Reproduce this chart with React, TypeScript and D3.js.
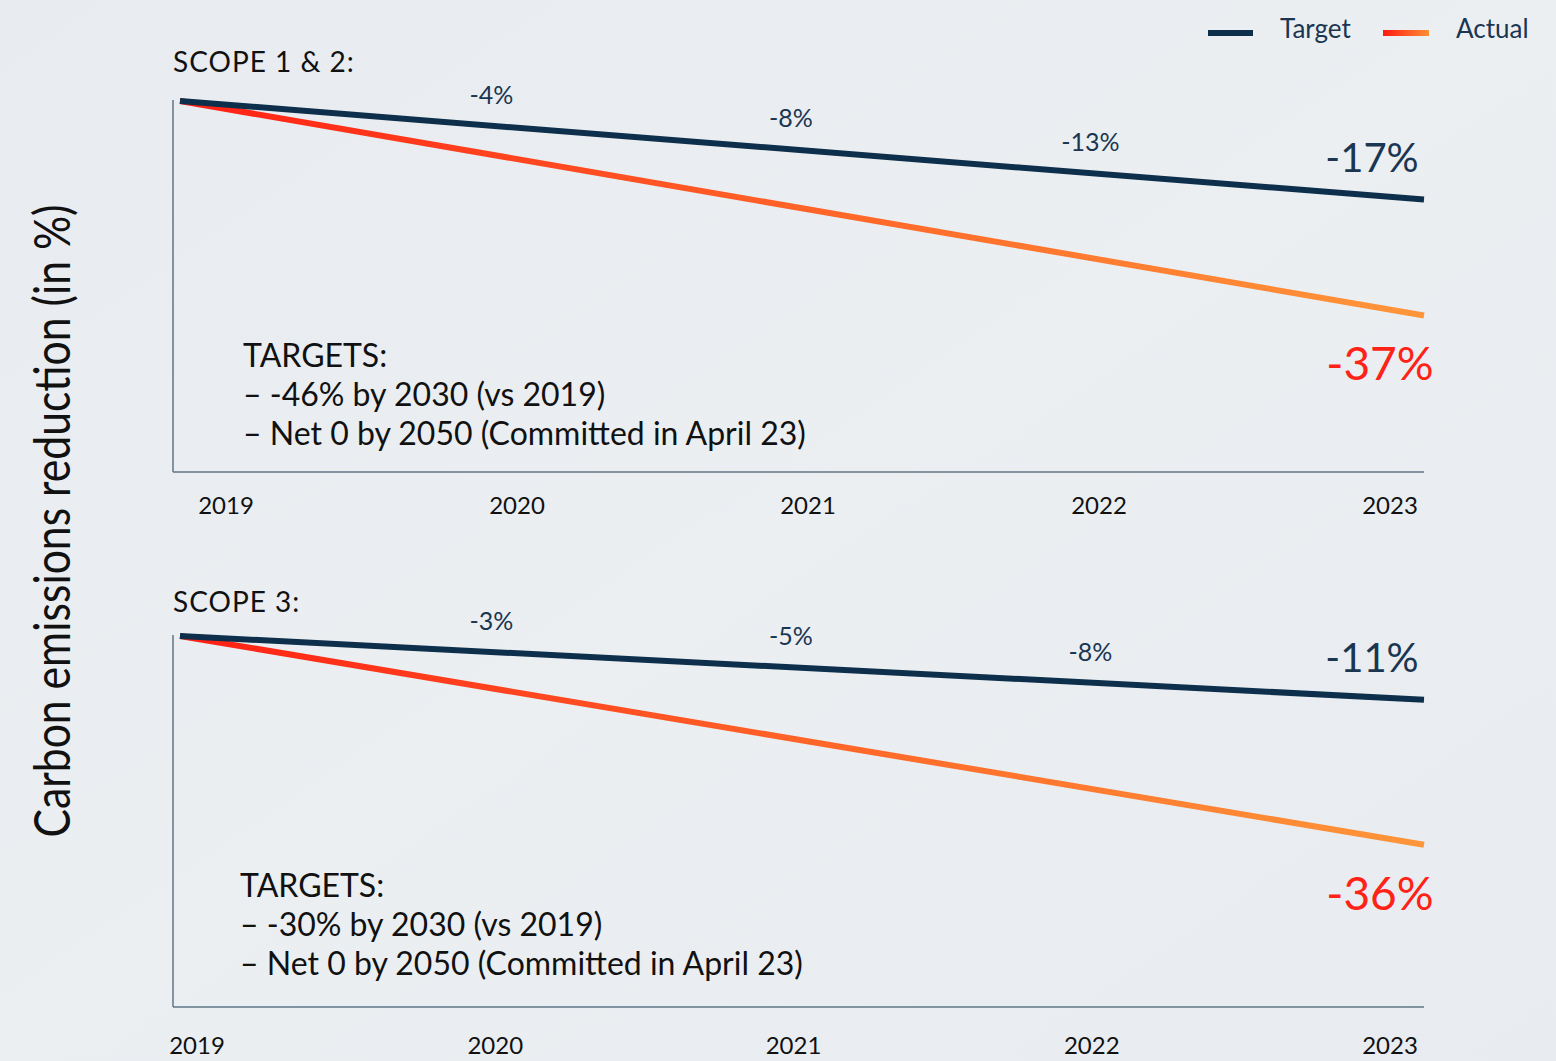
import React from 'react';
import * as d3 from 'd3';

const years = [2019, 2020, 2021, 2022, 2023];
const endYears = [2019, 2023];

const scope12Target = [0, -4, -8, -13, -17];
const scope12Actual = [0, -37];
const scope3Target = [0, -3, -5, -8, -11];
const scope3Actual = [0, -36];

const scope12Title = 'SCOPE 1 & 2:';
const scope3Title = 'SCOPE 3:';
const scope12Notes = ['TARGETS:', '– -46% by 2030 (vs 2019)', '– Net 0 by 2050 (Committed in April 23)'];
const scope3Notes = ['TARGETS:', '– -30% by 2030 (vs 2019)', '– Net 0 by 2050 (Committed in April 23)'];

const legendLabels = ['Target', 'Actual'];
const yTitle = 'Carbon emissions reduction (in %)';

const W = 1556;
const H = 1061;
const FONT = 'Lato, "Noto Sans", sans-serif';
const NAVY = '#0e2f4b';
const LABEL = '#1a3651';
const RED = '#ff2216';

const fmt = (v: number) => `${v}%`;

type PanelProps = {
  top: number;
  bottom: number;
  title: string;
  titleGap: number;
  notes: string[];
  noteX: number;
  noteGap: number;
  target: number[];
  actual: number[];
  tickRange: [number, number];
  tickDy: number;
};

function Panel({ top, bottom, title, titleGap, notes, noteX, noteGap, target, actual, tickRange, tickDy }: PanelProps) {
  const x = d3.scalePoint<number>().domain(years).range([180, 1424]);
  const labelX = d3.scalePoint<number>().domain(years).range([192, 1390]);
  const tickX = d3.scalePoint<number>().domain(years).range(tickRange);
  const y = d3.scaleLinear().domain([-64, 0]).range([bottom, top]);
  const line = d3
    .line<[number, number]>()
    .x((d) => x(d[0]) as number)
    .y((d) => y(d[1]));
  const lastT = target[target.length - 1];
  const lastA = actual[actual.length - 1];
  const targetPts: [number, number][] = [
    [years[0], target[0]],
    [years[years.length - 1], lastT],
  ];
  const actualPts: [number, number][] = endYears.map((yr, i) => [yr, actual[i]]);
  const lastYear = years[years.length - 1];
  const axisLeft = 173;
  const axisRight = 1424;
  const targetAt = (yr: number) => {
    // position of the straight target line at the label's x
    const lx = labelX(yr) as number;
    const t = (lx - 180) / (1424 - 180);
    return y(target[0]) + t * (y(lastT) - y(target[0]));
  };
  return (
    <g>
      <text x={axisLeft} y={top - titleGap} fontSize={28} fill="#111" fontFamily={FONT} letterSpacing={1}>
        {title}
      </text>
      <line x1={axisLeft} x2={axisLeft} y1={top - 1} y2={bottom} stroke="#5f7587" strokeWidth={1.5} />
      <line x1={axisLeft} x2={axisRight} y1={bottom} y2={bottom} stroke="#5f7587" strokeWidth={1.5} />
      <path d={line(actualPts) as string} fill="none" stroke="url(#actGrad)" strokeWidth={6} />
      <path d={line(targetPts) as string} fill="none" stroke={NAVY} strokeWidth={6} />
      {years.slice(1, -1).map((yr, i) => (
        <text
          key={yr}
          x={labelX(yr) as number}
          y={targetAt(yr) - 22}
          textAnchor="middle"
          fontSize={25}
          fill={LABEL}
          fontFamily={FONT}
        >
          {fmt(target[i + 1])}
        </text>
      ))}
      <text
        x={(x(lastYear) as number) - 52}
        y={y(lastT) - 28}
        textAnchor="middle"
        fontSize={40}
        fill={LABEL}
        fontFamily={FONT}
      >
        {fmt(lastT)}
      </text>
      <text
        x={(x(lastYear) as number) - 44}
        y={y(lastA) + 65}
        textAnchor="middle"
        fontSize={46}
        fill={RED}
        fontFamily={FONT}
      >
        {fmt(lastA)}
      </text>
      {notes.map((n, i) => (
        <text key={i} x={noteX} y={bottom - noteGap + i * 39} fontSize={32} fill="#111" fontFamily={FONT}>
          {n}
        </text>
      ))}
      {years.map((yr) => (
        <text
          key={yr}
          x={tickX(yr) as number}
          y={bottom + tickDy}
          textAnchor="middle"
          fontSize={24}
          fill="#111"
          fontFamily={FONT}
        >
          {yr}
        </text>
      ))}
    </g>
  );
}

export default function App() {
  return (
    <svg
      width={W}
      height={H}
      viewBox={`0 0 ${W} ${H}`}
      style={{ position: 'absolute', left: 0, top: 0, display: 'block' }}
    >
      <defs>
        <linearGradient id="actGrad" gradientUnits="userSpaceOnUse" x1={180} y1={0} x2={1424} y2={0}>
          <stop offset="0%" stopColor="#ff2014" />
          <stop offset="50%" stopColor="#ff6428" />
          <stop offset="100%" stopColor="#ff963a" />
        </linearGradient>
        <linearGradient id="legGrad" x1="0" y1="0" x2="1" y2="0">
          <stop offset="0%" stopColor="#ff1a10" />
          <stop offset="100%" stopColor="#ff8f35" />
        </linearGradient>
        <linearGradient id="bgGrad" x1="0" y1="0" x2="1" y2="1">
          <stop offset="0%" stopColor="#e8ecf0" />
          <stop offset="50%" stopColor="#ebeff2" />
          <stop offset="100%" stopColor="#e8ecf0" />
        </linearGradient>
      </defs>
      <rect x={0} y={0} width={W} height={H} fill="url(#bgGrad)" />

      <text
        transform={`translate(70, 521) rotate(-90)`}
        textAnchor="middle"
        fontSize={50}
        fill="#111"
        fontFamily={FONT}
        textLength={633}
        lengthAdjust="spacingAndGlyphs"
      >
        {yTitle}
      </text>

      <g>
        <rect x={1208} y={30} width={45} height={6} fill={NAVY} />
        <text x={1280} y={38} fontSize={26} fill={LABEL} fontFamily={FONT}>
          {legendLabels[0]}
        </text>
        <rect x={1383} y={30} width={46} height={6} fill="url(#legGrad)" />
        <text x={1456} y={38} fontSize={26} fill={LABEL} fontFamily={FONT}>
          {legendLabels[1]}
        </text>
      </g>

      <Panel
        top={101}
        bottom={472}
        title={scope12Title}
        titleGap={29}
        notes={scope12Notes}
        noteX={243}
        noteGap={105}
        target={scope12Target}
        actual={scope12Actual}
        tickRange={[226, 1390]}
        tickDy={42}
      />
      <Panel
        top={636}
        bottom={1007}
        title={scope3Title}
        titleGap={24}
        notes={scope3Notes}
        noteX={240}
        noteGap={110}
        target={scope3Target}
        actual={scope3Actual}
        tickRange={[197, 1390]}
        tickDy={47}
      />
    </svg>
  );
}
